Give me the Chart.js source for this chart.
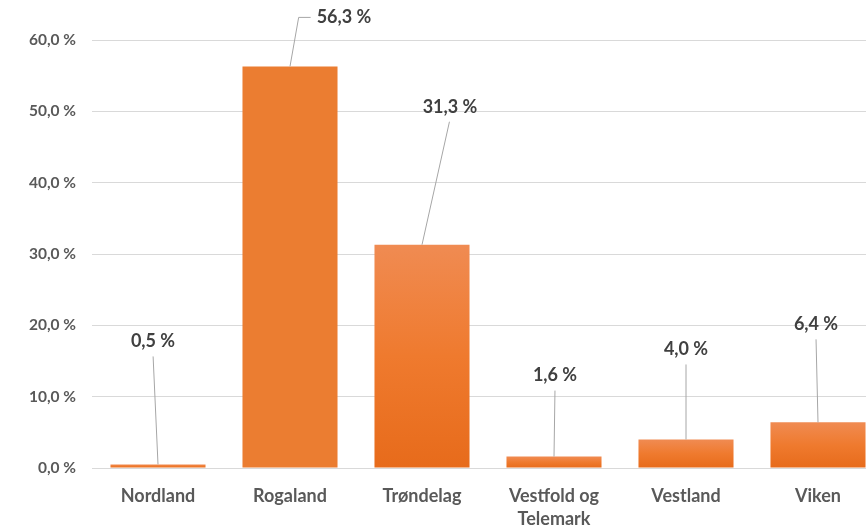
<!DOCTYPE html>
<html>
<head>
<meta charset="utf-8">
<script src="https://cdn.jsdelivr.net/npm/chart.js@4.4.1/dist/chart.umd.min.js"></script>
<style>
  html, body { margin: 0; padding: 0; background: #fff; overflow: hidden; }
  #wrap { width: 884px; height: 528px; }
</style>
</head>
<body>
<div id="wrap"><canvas id="myChart"></canvas></div>
<script>
var fylker = ['Nordland', 'Rogaland', 'Trøndelag', ['Vestfold og', 'Telemark'], 'Vestland', 'Viken'];
var andel = [0.5, 56.3, 31.3, 1.6, 4.0, 6.4];
var yTicks = [0, 10, 20, 30, 40, 50, 60];

// where each data label sits, relative to the top of its bar (px)
var labelShift = [[-5, -123], [54, -49], [28, -138], [1, -81], [0, -90], [-2, -98]];
// Rogaland is drawn in a flat fill, the others with a gradient
var flatBar = [false, true, false, false, false, false];

function pct(v) {
    return v.toFixed(1).replace('.', ',') + ' %';
}

function barFill(ctx) {
    var chart = ctx.chart;
    if (!chart.chartArea || ctx.dataIndex === undefined) return '#ED7D31';
    if (flatBar[ctx.dataIndex]) return '#EB7D31';
    var y = chart.scales.y;
    var top = y.getPixelForValue(andel[ctx.dataIndex]);
    var base = y.getPixelForValue(0);
    if (!isFinite(top) || base - top < 1) return '#ED7D31';
    var g = chart.ctx.createLinearGradient(0, top, 0, base);
    g.addColorStop(0, '#F08B52');
    g.addColorStop(0.5, '#EF7A2E');
    g.addColorStop(1, '#E76B1B');
    return g;
}

var leaderLabels = {
    id: 'leaderLabels',
    afterDatasetsDraw: function (chart) {
        var c = chart.ctx;
        var meta = chart.getDatasetMeta(0);
        c.save();
        c.font = 'bold 18px Lato, "Open Sans", sans-serif';
        c.textAlign = 'center';
        c.textBaseline = 'middle';
        meta.data.forEach(function (bar, i) {
            var x0 = bar.x, y0 = bar.y;
            var lx = x0 + labelShift[i][0], ly = y0 + labelShift[i][1];
            var txt = pct(andel[i]);
            var w = c.measureText(txt).width;
            c.strokeStyle = '#A6A6A6';
            c.lineWidth = 1;
            c.beginPath();
            c.moveTo(x0, y0);
            if (Math.abs(labelShift[i][0]) > 35) {
                // elbow line going to the left side of the label
                c.lineTo(lx - w / 2 - 18, ly);
                c.lineTo(lx - w / 2 - 6, ly);
            } else {
                c.lineTo(lx + (x0 - lx) * 0.02, ly + 15);
            }
            c.stroke();
            c.fillStyle = '#404040';
            c.fillText(txt, lx, ly);
        });
        c.restore();
    }
};

var cvas = document.getElementById('myChart').getContext('2d');
var myChart = new Chart(cvas, {
    type: 'bar',
    data: {
        labels: fylker,
        datasets: [{
            data: andel,
            backgroundColor: barFill,
            borderWidth: 0,
            categoryPercentage: 0.72,
            barPercentage: 1
        }]
    },
    options: {
        responsive: true,
        maintainAspectRatio: false,
        animation: false,
        layout: { padding: { top: 40, left: 0, right: 0, bottom: 0 } },
        plugins: {
            legend: { display: false },
            tooltip: { enabled: false }
        },
        scales: {
            x: {
                grid: { display: false },
                border: { color: '#D9D9D9', width: 1 },
                ticks: {
                    color: '#595959',
                    padding: 8,
                    maxRotation: 0,
                    font: { family: 'Lato, "Open Sans", sans-serif', size: 18, weight: 'bold', lineHeight: 1.3 }
                },
                afterFit: function (s) { s.height = 60; }
            },
            y: {
                min: 0,
                max: 60,
                afterBuildTicks: function (s) {
                    s.ticks = yTicks.map(function (v) { return { value: v }; });
                },
                grid: { color: '#D9D9D9', drawTicks: false },
                border: { display: false },
                ticks: {
                    color: '#595959',
                    padding: 16,
                    callback: function (v) { return pct(v); },
                    font: { family: 'Lato, "Open Sans", sans-serif', size: 15.5, weight: 'bold' }
                },
                afterFit: function (s) { s.width = 92; }
            }
        }
    },
    plugins: [leaderLabels]
});
</script>
</body>
</html>
